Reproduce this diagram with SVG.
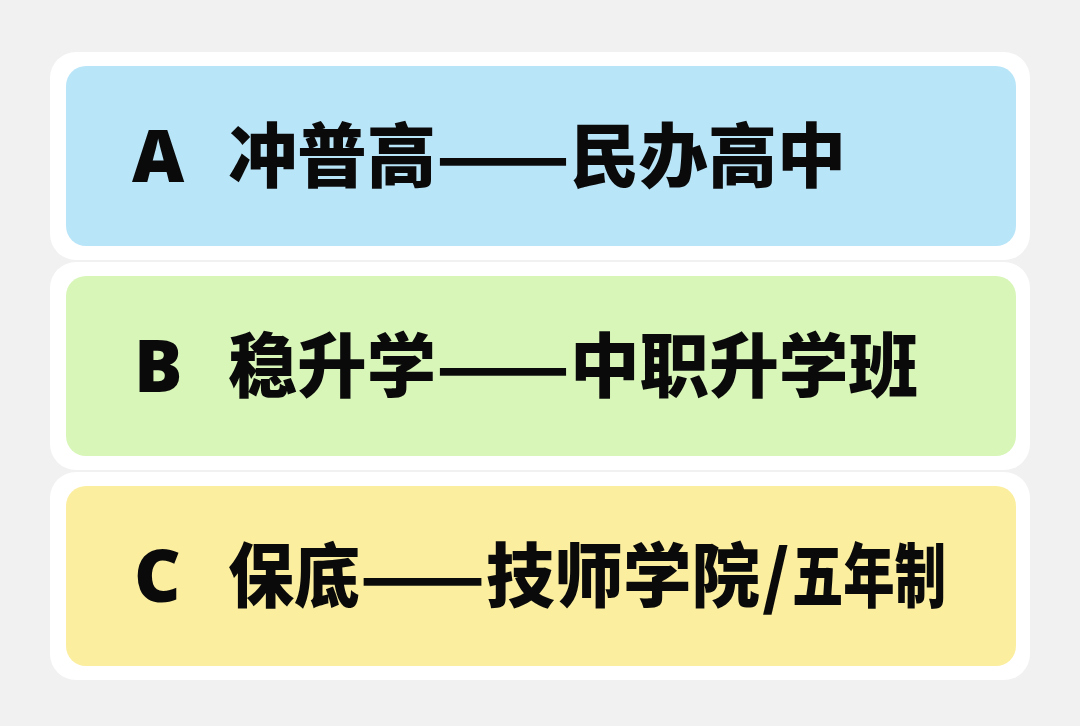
<svg xmlns="http://www.w3.org/2000/svg" width="1080" height="726" viewBox="0 0 1080 726">
<style>
.o{fill:#ffffff}
.t{font-family:"Noto Sans CJK SC","Noto Sans",sans-serif;font-weight:900;font-size:70px;fill:#0a0a0a}
.l{font-family:"Noto Sans","Liberation Sans",sans-serif;font-weight:900;font-size:72px;fill:#0a0a0a}
</style>
<rect width="1080" height="726" fill="#f1f1f1"/>
<g id="nodeA">
<rect class="o" x="50" y="52" width="980" height="208" rx="26"/>
<rect x="66" y="66" width="950" height="180" rx="20" fill="#b9e5f9"/>
<text class="l" x="132" y="182">A</text>
<text class="t" y="182"><tspan x="228" textLength="208" lengthAdjust="spacingAndGlyphs">冲普高</tspan><tspan x="436" textLength="134" lengthAdjust="spacingAndGlyphs">——</tspan><tspan x="570" textLength="276" lengthAdjust="spacingAndGlyphs">民办高中</tspan></text>
</g>
<g id="nodeB">
<rect class="o" x="50" y="262" width="980" height="208" rx="26"/>
<rect x="66" y="276" width="950" height="180" rx="20" fill="#d8f6b8"/>
<text class="l" x="134" y="392">B</text>
<text class="t" y="392"><tspan x="228" textLength="208" lengthAdjust="spacingAndGlyphs">稳升学</tspan><tspan x="436" textLength="134" lengthAdjust="spacingAndGlyphs">——</tspan><tspan x="570" textLength="348" lengthAdjust="spacingAndGlyphs">中职升学班</tspan></text>
</g>
<g id="nodeC">
<rect class="o" x="50" y="472" width="980" height="208" rx="26"/>
<rect x="66" y="486" width="950" height="180" rx="20" fill="#fbee9f"/>
<text class="l" x="134" y="602">C</text>
<text class="t" y="602"><tspan x="228" textLength="132" lengthAdjust="spacingAndGlyphs">保底</tspan><tspan x="360" textLength="125" lengthAdjust="spacingAndGlyphs">——</tspan><tspan x="486" textLength="274" lengthAdjust="spacingAndGlyphs">技师学院</tspan><tspan x="762" textLength="28" lengthAdjust="spacingAndGlyphs">/</tspan><tspan x="792" textLength="154" lengthAdjust="spacingAndGlyphs">五年制</tspan></text>
</g>
<g id="connectors"/>
</svg>
